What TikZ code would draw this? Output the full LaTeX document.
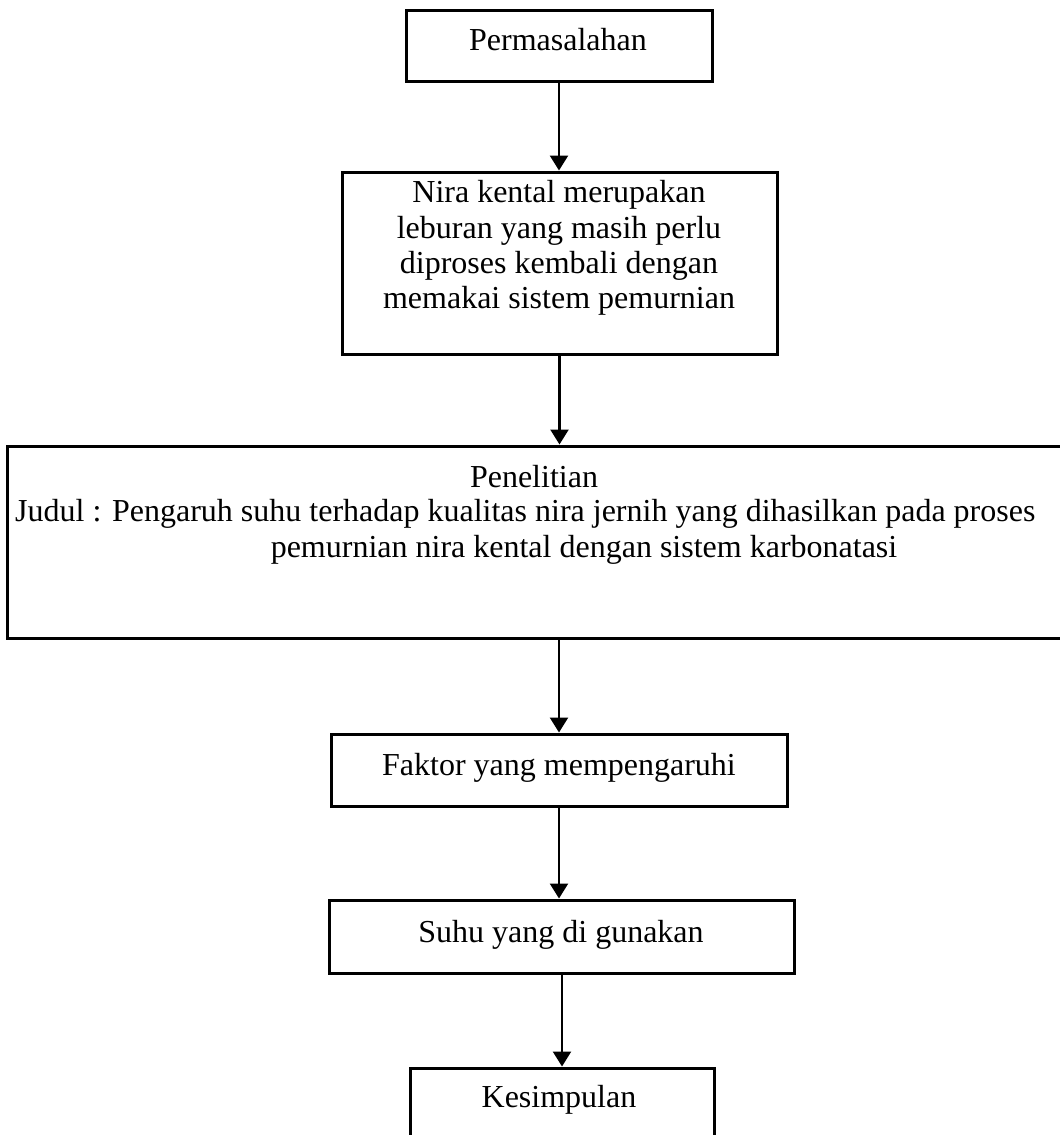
\documentclass[tikz,border=0pt]{standalone}
\usepackage{fontspec}
\setmainfont{Liberation Serif}
\usetikzlibrary{arrows.meta}
\begin{document}
\begin{tikzpicture}[x=1pt,y=-1pt,
  box/.style={draw, line width=3pt, rectangle, inner sep=0pt},
  txt/.style={inner sep=0pt, anchor=base, font=\fontsize{32}{36}\selectfont},
  flow/.style={line width=2.4pt, -{Triangle[length=15pt,width=18pt]}}]
\useasboundingbox (0,0) rectangle (1060,1135);
\clip (0,0) rectangle (1060,1135);
% boxes
\node[box, minimum width=306pt, minimum height=71pt] (b1) at (559,45.5) {};
\node[box, minimum width=435pt, minimum height=182pt] (b2) at (559.5,263) {};
\node[box, minimum width=1073pt, minimum height=192pt] (b3) at (543.5,542) {};
\node[box, minimum width=456pt, minimum height=72pt] (b4) at (559,770) {};
\node[box, minimum width=465pt, minimum height=73pt] (b5) at (561.5,936.5) {};
\node[box, minimum width=304pt, minimum height=82pt] (b6) at (562,1109) {};
% texts
\node[txt] (t1) at (558,50) {Permasalahan};
\node[txt] (t2a) at (559,202) {Nira kental merupakan};
\node[txt] (t2b) at (559,238) {leburan yang masih perlu};
\node[txt] (t2c) at (559,273) {diproses kembali dengan};
\node[txt] (t2d) at (559,308) {memakai sistem pemurnian};
\node[txt] (t3a) at (534,487) {Penelitian};
\node[txt, anchor=base west] (t3b) at (15,521) {Judul : Pengaruh suhu terhadap kualitas nira jernih yang dihasilkan pada proses};
\node[txt] (t3c) at (584,557) {pemurnian nira kental dengan sistem karbonatasi};
\node[txt] (t4) at (559,775) {Faktor yang mempengaruhi};
\node[txt] (t5) at (561,942) {Suhu yang di gunakan};
\node[txt] (t6) at (559,1107) {Kesimpulan};
% connectors
\draw[flow] (b1.south) -- (b1.south |- b2.north);
\draw[flow] (b2.south) -- (b2.south |- b3.north);
\draw[flow] (b4.north |- b3.south) -- (b4.north);
\draw[flow] (b4.south) -- (b4.south |- b5.north);
\draw[flow] (b6.north |- b5.south) -- (b6.north);
\end{tikzpicture}
\end{document}
